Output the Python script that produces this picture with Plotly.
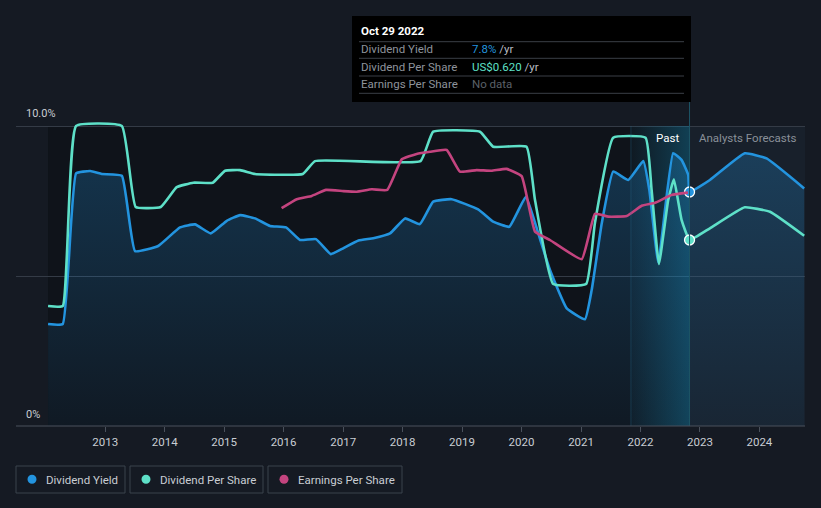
import plotly.graph_objects as go

# ---------------- data ----------------
yield_dates = ["2012-01-16", "2012-04-15", "2012-07-06", "2012-10-01", "2012-12-11", "2013-04-13",
               "2013-07-03", "2013-11-22", "2014-04-05", "2014-07-07", "2014-10-11", "2015-01-17",
               "2015-04-09", "2015-07-10", "2015-10-10", "2016-01-16", "2016-04-11", "2016-07-18",
               "2016-10-17", "2016-12-13", "2017-04-05", "2017-07-05", "2017-10-16", "2018-01-16",
               "2018-04-17", "2018-07-08", "2018-10-29", "2019-04-10", "2019-07-11", "2019-10-18",
               "2020-01-28", "2020-04-13", "2020-06-24", "2020-10-05", "2021-01-25", "2021-03-07",
               "2021-05-08", "2021-07-17", "2021-10-18", "2022-01-18", "2022-02-24", "2022-04-20",
               "2022-07-20", "2022-09-10", "2022-10-21", "2022-10-29"]
yield_pct = [3.4, 3.4, 8.42, 8.5, 8.4, 8.34,
             5.83, 6.0, 6.62, 6.72, 6.42, 6.84,
             7.03, 6.92, 6.67, 6.62, 6.2, 6.23,
             5.73, 5.87, 6.18, 6.26, 6.42, 6.92,
             6.73, 7.48, 7.56, 7.22, 6.81, 6.64,
             7.64, 6.42, 5.2, 3.92, 3.56, 4.53,
             6.76, 8.48, 8.2, 8.83, 7.87, 5.45,
             9.09, 8.87, 8.37, 7.8]
yield_fc_dates = ["2022-10-29", "2023-03-03", "2023-10-03", "2024-02-14", "2024-10-02"]
yield_fc_pct = [7.8, 8.2, 9.09, 8.92, 7.92]

dps_dates = ["2012-01-16", "2012-04-15", "2012-07-06", "2013-04-13", "2013-07-07", "2013-12-08",
             "2014-03-16", "2014-06-26", "2014-10-23", "2015-01-07", "2015-04-09", "2015-07-10",
             "2016-04-28", "2016-07-12", "2018-04-21", "2018-07-08", "2019-04-21", "2019-07-11",
             "2020-02-01", "2020-03-24", "2020-07-14", "2021-02-01", "2021-03-27", "2021-07-17",
             "2022-02-01", "2022-03-10", "2022-04-24", "2022-06-20", "2022-07-25", "2022-09-10",
             "2022-10-29"]
dps_usd = [0.40, 0.40, 1.00, 1.00, 0.73, 0.73,
           0.796, 0.811, 0.811, 0.851, 0.853, 0.84,
           0.84, 0.883, 0.883, 0.981, 0.981, 0.931,
           0.931, 0.753, 0.473, 0.473, 0.677, 0.961,
           0.961, 0.787, 0.54, 0.753, 0.822, 0.687,
           0.620]
dps_fc_dates = ["2022-10-29", "2023-03-03", "2023-10-03", "2024-03-06", "2024-10-02"]
dps_fc_usd = [0.620, 0.659, 0.729, 0.714, 0.634]

eps_dates = ["2015-12-20", "2016-03-22", "2016-06-22", "2016-09-18", "2017-01-02", "2017-03-26",
             "2017-06-26", "2017-09-29", "2017-12-27", "2018-03-28", "2018-06-18", "2018-09-29",
             "2018-12-19", "2019-03-31", "2019-07-01", "2019-10-01", "2020-01-02", "2020-03-24",
             "2020-06-24", "2021-01-05", "2021-03-27", "2021-06-17", "2021-10-08", "2022-01-08",
             "2022-03-31", "2022-07-10", "2022-10-19"]
eps_index = [7.26, 7.56, 7.67, 7.87, 7.83, 7.81,
             7.89, 7.87, 8.89, 9.07, 9.14, 9.2,
             8.48, 8.53, 8.51, 8.57, 8.33, 6.48,
             6.2, 5.56, 7.07, 6.98, 7.0, 7.34,
             7.44, 7.7, 7.78]

year_ticks = ["2013", "2014", "2015", "2016", "2017", "2018", "2019", "2020", "2021", "2022", "2023", "2024"]
y_ticks = [0, 5, 10]
y_tick_labels = ["0%", "", "10.0%"]

region_start = "2012-01-16"
highlight_start = "2021-11-03"
today = "2022-10-29"
region_end = "2024-10-07"
x_range = ["2011-07-03", "2024-10-07"]

# ---------------- style ----------------
BG = "#151a23"
PAST_BG = "#0f131a"
FC_BG = "#18202b"
BLUE = "#2394df"
TEAL = "#5ee0c8"
PINK = "#c4447f"
GRID = "#343b46"
FONT = "Roboto"
FS = 11.5
SMOOTH = 0.35

W, H = 821, 508
ML, MR, MT, MB = 16, 16, 100, 82
PW = W - ML - MR
PH = H - MT - MB


def px(x):
    return (x - ML) / PW


def py(y):
    return (H - MB - y) / PH


fig = go.Figure()

# background regions
fig.add_shape(type="rect", xref="x", yref="y", x0=region_start, x1=today, y0=0, y1=10,
              fillcolor=PAST_BG, line_width=0, layer="below")
fig.add_shape(type="rect", xref="x", yref="y", x0=today, x1=region_end, y0=0, y1=10,
              fillcolor=FC_BG, line_width=0, layer="below")

# highlight band: horizontal gradient, brighter towards "today"
fig.add_trace(go.Scatter(
    x=[highlight_start, today, today, highlight_start, highlight_start],
    y=[0, 0, 10, 10, 0], mode="none", fill="toself",
    fillgradient=dict(type="horizontal",
                      colorscale=[[0, "rgba(20,125,165,0.06)"], [1, "rgba(20,130,170,0.40)"]]),
    hoverinfo="skip", showlegend=False))
fig.add_shape(type="line", xref="x", yref="y", x0=highlight_start, x1=highlight_start, y0=0, y1=10,
              line=dict(color="rgba(40,110,140,0.35)", width=1))

# dividend yield (area)
fig.add_trace(go.Scatter(
    x=yield_dates + yield_fc_dates[1:], y=yield_pct + yield_fc_pct[1:],
    mode="lines", line=dict(color=BLUE, width=2.6, shape="spline", smoothing=SMOOTH),
    fill="tozeroy",
    fillgradient=dict(type="vertical", start=0, stop=10,
                      colorscale=[[0, "rgba(35,148,223,0.05)"], [1, "rgba(35,148,223,0.28)"]]),
    name="Dividend Yield", hoverinfo="skip", showlegend=False))

# dividend per share (own scale, 1 US$ = 10%)
fig.add_trace(go.Scatter(
    x=dps_dates + dps_fc_dates[1:], y=dps_usd + dps_fc_usd[1:], yaxis="y2",
    mode="lines", line=dict(color=TEAL, width=2.6, shape="spline", smoothing=SMOOTH),
    name="Dividend Per Share", hoverinfo="skip", showlegend=False))

# earnings per share
fig.add_trace(go.Scatter(
    x=eps_dates, y=eps_index, yaxis="y3",
    mode="lines", line=dict(color=PINK, width=2.6, shape="spline", smoothing=SMOOTH),
    name="Earnings Per Share", hoverinfo="skip", showlegend=False))

# vertical "today" line
fig.add_shape(type="line", xref="x", yref="paper", x0=today, x1=today, y0=0, y1=py(101),
              line=dict(color="#1d5566", width=1))

# end markers
fig.add_trace(go.Scatter(x=[today], y=[yield_pct[-1]], mode="markers",
                         marker=dict(color=BLUE, size=10, line=dict(color="white", width=1.3)),
                         hoverinfo="skip", showlegend=False))
fig.add_trace(go.Scatter(x=[today], y=[dps_usd[-1]], yaxis="y2", mode="markers",
                         marker=dict(color=TEAL, size=10, line=dict(color="white", width=1.3)),
                         hoverinfo="skip", showlegend=False))

yr = [0, 10 * PH / 300]
fig.update_layout(
    width=W, height=H,
    margin=dict(l=ML, r=MR, t=MT, b=MB),
    paper_bgcolor=BG, plot_bgcolor=BG,
    font=dict(family=FONT, color="#c9cdd3"),
    showlegend=False,
    xaxis=dict(type="date", range=x_range, tickvals=[f"{y}-01-01" for y in year_ticks],
               ticktext=year_ticks, showgrid=False, zeroline=False,
               ticks="outside", ticklen=5, tickcolor="#4a515c",
               showline=False, tickfont=dict(family=FONT, size=FS, color="#c9cdd3")),
    yaxis=dict(range=yr, tickvals=y_ticks, showticklabels=False, showgrid=True,
               gridcolor=GRID, gridwidth=1, zeroline=False, fixedrange=True),
    yaxis2=dict(range=[v / 10 for v in yr], overlaying="y", visible=False),
    yaxis3=dict(range=yr, overlaying="y", visible=False),
)

# bottom axis line
fig.add_shape(type="line", xref="paper", yref="paper", x0=0, x1=1, y0=0, y1=0,
              line=dict(color="#4a515c", width=1))


def label(x, y, text, color, xanchor="left", xref="paper", xshift=0, size=FS):
    fig.add_annotation(xref=xref, yref="paper", x=x, y=y, text=text, showarrow=False,
                       xanchor=xanchor, yanchor="middle", xshift=xshift,
                       font=dict(family=FONT, size=size, color=color))


# y labels
for v, t in zip(y_ticks, y_tick_labels):
    if t:
        label(px(24), py(426 - v * 30 - 12), t, "#c9cdd3", size=11)

# Past / Analysts Forecasts
label(today, py(138), "Past", "#ffffff", xanchor="right", xref="x", xshift=-9)
label(today, py(138), "Analysts Forecasts", "#8a9099", xanchor="left", xref="x", xshift=7)

# tooltip
fig.add_shape(type="rect", xref="paper", yref="paper", x0=px(352), x1=px(691), y0=py(102), y1=py(16),
              fillcolor="#000000", line_width=0)
for yy in [41.7, 58.3, 76, 93.3]:
    fig.add_shape(type="line", xref="paper", yref="paper", x0=px(359), x1=px(684), y0=py(yy), y1=py(yy),
                  line=dict(color="#3a3f47", width=1))
label(px(359), py(31), "<b>Oct 29 2022</b>", "#ffffff")
rows = [("Dividend Yield", f"<span style='color:{BLUE}'>{yield_pct[-1]:.1f}%</span> /yr", 49.5),
        ("Dividend Per Share", f"<span style='color:{TEAL}'>US${dps_usd[-1]:.3f}</span> /yr", 66.5),
        ("Earnings Per Share", "<span style='color:#5b6069'>No data</span>", 84)]
for lab, val, yy in rows:
    label(px(359), py(yy), lab, "#8e939b")
    label(px(470), py(yy), val, "#b9bdc4")

# legend boxes
legend = [("Dividend Yield", BLUE, 16, 125), ("Dividend Per Share", TEAL, 130, 263),
          ("Earnings Per Share", PINK, 268, 402)]
for name, col, x0, x1 in legend:
    fig.add_shape(type="rect", xref="paper", yref="paper", x0=px(x0), x1=px(x1), y0=py(493), y1=py(466),
                  fillcolor="rgba(0,0,0,0)", line=dict(color="#3b424d", width=1))
    fig.add_shape(type="circle", xref="paper", yref="paper", x0=px(x0 + 11.5), x1=px(x0 + 20.5),
                  y0=py(483.8), y1=py(474.8), fillcolor=col, line_width=0)
    label(px(x0 + 28), py(479.5), name, "#c9cdd3")

fig.write_html("out.html", config={"displayModeBar": False},
               post_script=f"document.body.style.margin='0';document.body.style.background='{BG}';")
